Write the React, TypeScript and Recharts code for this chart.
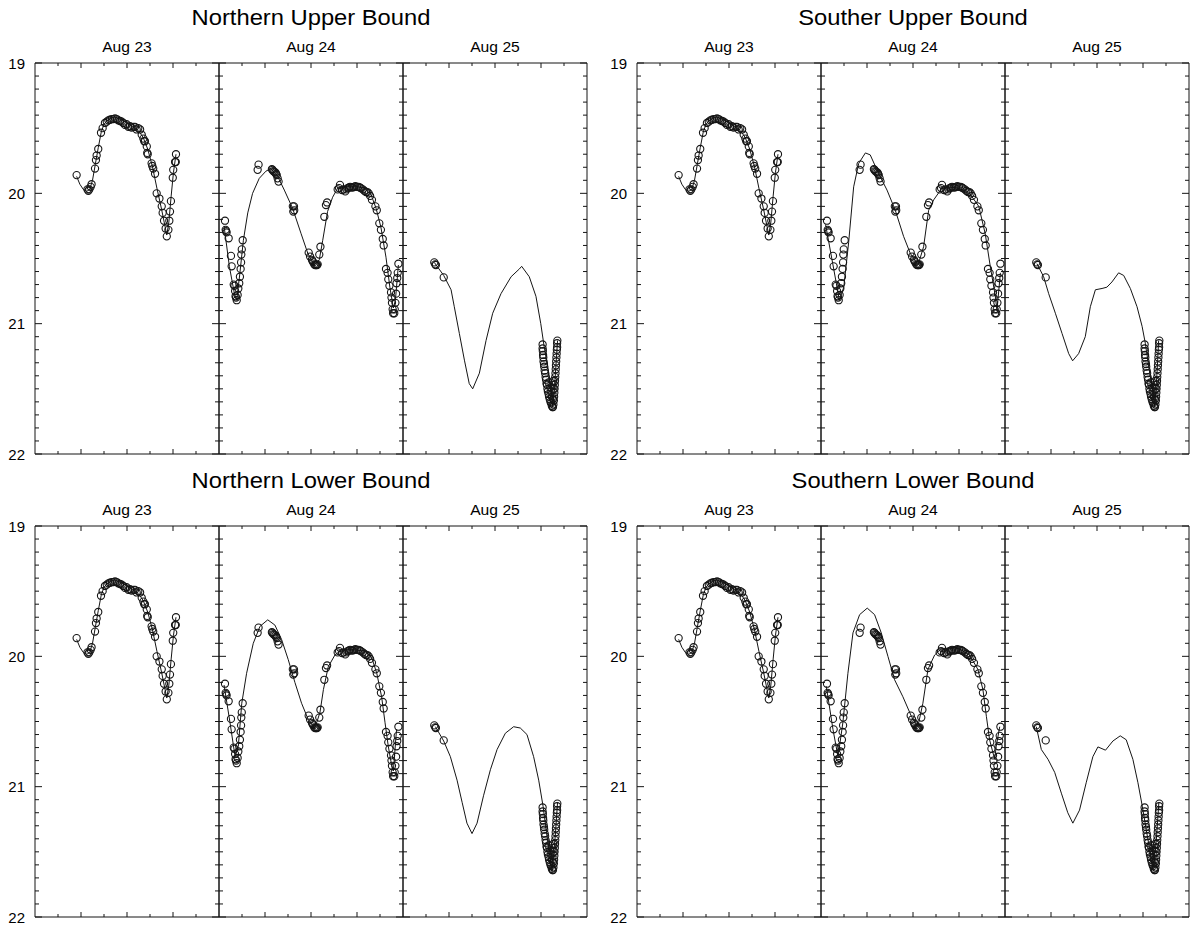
import { ComposedChart, Line, Scatter, XAxis, YAxis } from "recharts";

type Pt = [number, number];

const days = ["Aug 23", "Aug 24", "Aug 25"];
const magTicks = [19, 20, 21, 22];
const hourTicks = [1, 2, 3, 4, 5, 6, 7];

// observed magnitudes (hours into the night, mag)
const obsAug23: Pt[] = [
    [1.81, 19.86], [2.28, 19.97], [2.32, 19.98], [2.36, 19.97], [2.42, 19.95], [2.46, 19.93],
    [2.61, 19.81], [2.65, 19.745], [2.68, 19.71], [2.75, 19.66], [2.87, 19.535], [2.94, 19.5],
    [3.04, 19.46], [3.12, 19.45], [3.19, 19.44], [3.26, 19.435], [3.34, 19.43], [3.41, 19.43],
    [3.48, 19.425], [3.55, 19.43], [3.62, 19.44], [3.7, 19.445], [3.77, 19.45], [3.84, 19.46],
    [3.91, 19.475], [3.98, 19.47], [4.06, 19.49], [4.13, 19.485], [4.2, 19.495], [4.28, 19.49],
    [4.35, 19.49], [4.42, 19.51], [4.49, 19.5], [4.57, 19.51], [4.64, 19.55], [4.71, 19.58],
    [4.75, 19.6], [4.78, 19.6], [4.86, 19.64], [4.88, 19.69], [4.9, 19.7], [5.07, 19.77],
    [5.1, 19.79], [5.14, 19.81], [5.22, 19.85], [5.29, 20.0], [5.41, 20.04], [5.51, 20.1],
    [5.55, 20.15], [5.61, 20.21], [5.68, 20.27], [5.73, 20.33], [5.8, 20.28], [5.84, 20.21],
    [5.87, 20.14], [5.91, 20.06], [5.99, 19.88], [6.01, 19.82], [6.09, 19.76], [6.12, 19.76],
    [6.13, 19.7]
];

const obsAug24: Pt[] = [
    [0.26, 20.21], [0.29, 20.28], [0.31, 20.29], [0.33, 20.3], [0.42, 20.345], [0.52, 20.48],
    [0.55, 20.56], [0.64, 20.7], [0.67, 20.71], [0.7, 20.75], [0.72, 20.79], [0.74, 20.8],
    [0.77, 20.82], [0.81, 20.78], [0.84, 20.73], [0.88, 20.69], [0.91, 20.64], [0.94, 20.58],
    [0.96, 20.53], [0.97, 20.47], [0.99, 20.43], [1.03, 20.36], [1.68, 19.82], [1.72, 19.78],
    [2.3, 19.815], [2.33, 19.82], [2.36, 19.83], [2.4, 19.835], [2.45, 19.84], [2.48, 19.85],
    [2.51, 19.86], [2.55, 19.885], [2.59, 19.91], [3.21, 20.1], [3.23, 20.14], [3.27, 20.13],
    [3.26, 20.1], [3.9, 20.455], [3.96, 20.485], [4.04, 20.51], [4.07, 20.52], [4.1, 20.53],
    [4.14, 20.545], [4.18, 20.55], [4.22, 20.55], [4.26, 20.55], [4.29, 20.545], [4.36, 20.47],
    [4.41, 20.41], [4.58, 20.18], [4.65, 20.09], [4.7, 20.07], [5.16, 19.97], [5.22, 19.96],
    [5.26, 19.935], [5.35, 19.975], [5.42, 19.97], [5.49, 19.985], [5.55, 19.97], [5.59, 19.96],
    [5.65, 19.955], [5.7, 19.95], [5.76, 19.955], [5.81, 19.955], [5.87, 19.95], [5.93, 19.945],
    [6.0, 19.95], [6.07, 19.95], [6.12, 19.955], [6.17, 19.96], [6.25, 19.97], [6.32, 19.98],
    [6.39, 19.99], [6.45, 19.99], [6.51, 20.0], [6.57, 20.02], [6.65, 20.05], [6.8, 20.1],
    [6.86, 20.13], [6.97, 20.23], [7.04, 20.28], [7.12, 20.35], [7.16, 20.4], [7.26, 20.58],
    [7.33, 20.61], [7.36, 20.66], [7.41, 20.71], [7.48, 20.76], [7.5, 20.8], [7.52, 20.84],
    [7.55, 20.89], [7.57, 20.92], [7.62, 20.92], [7.64, 20.89], [7.67, 20.84], [7.7, 20.77],
    [7.72, 20.69], [7.75, 20.65], [7.77, 20.61], [7.8, 20.54]
];

const obsAug25: Pt[] = [
    [1.36, 20.53], [1.4, 20.545], [1.43, 20.55], [1.77, 20.645],
    [6.07, 21.16], [6.07, 21.19], [6.08, 21.21], [6.09, 21.24], [6.1, 21.26], [6.11, 21.29],
    [6.13, 21.31], [6.14, 21.33], [6.16, 21.36], [6.18, 21.38], [6.2, 21.41], [6.22, 21.43],
    [6.24, 21.46], [6.26, 21.47], [6.28, 21.5], [6.3, 21.52], [6.33, 21.54], [6.35, 21.56],
    [6.38, 21.58], [6.41, 21.6], [6.44, 21.61], [6.47, 21.63], [6.5, 21.64],
    [6.71, 21.13], [6.7, 21.15], [6.7, 21.18], [6.69, 21.2], [6.68, 21.23], [6.67, 21.26],
    [6.66, 21.29], [6.65, 21.32], [6.64, 21.35], [6.63, 21.38], [6.62, 21.41], [6.61, 21.44],
    [6.6, 21.47], [6.59, 21.5], [6.58, 21.53], [6.57, 21.56], [6.56, 21.59], [6.54, 21.62],
    [6.52, 21.64], [6.33, 21.45], [6.4, 21.49], [6.45, 21.52], [6.48, 21.56], [6.52, 21.58],
    [6.55, 21.5], [6.53, 21.44], [6.5, 21.47]
];

// model light curves
const model23: Pt[] = [
    [1.81, 19.87], [1.95, 19.93], [2.1, 19.97], [2.25, 19.985], [2.38, 19.97], [2.5, 19.9],
    [2.62, 19.78], [2.75, 19.65], [2.88, 19.53], [3.0, 19.47], [3.15, 19.44], [3.35, 19.42],
    [3.55, 19.42], [3.75, 19.435], [4.0, 19.46], [4.25, 19.49], [4.5, 19.52], [4.7, 19.57],
    [4.9, 19.66], [5.1, 19.79], [5.3, 19.96], [5.5, 20.12], [5.65, 20.25], [5.73, 20.32],
    [5.82, 20.22], [5.92, 20.02], [6.02, 19.84], [6.13, 19.7]
];

const nUpper24: Pt[] = [
    [0.22, 20.25], [0.45, 20.56], [0.67, 20.77], [0.77, 20.82], [0.91, 20.61], [1.06, 20.36],
    [1.25, 20.15], [1.46, 20.0], [1.75, 19.885], [2.04, 19.83], [2.26, 19.81], [2.55, 19.87],
    [2.84, 19.975], [3.2, 20.115], [3.57, 20.31], [3.86, 20.46], [4.14, 20.55], [4.36, 20.51],
    [4.51, 20.36], [4.72, 20.14], [4.94, 20.03], [5.16, 19.96], [5.52, 19.945], [5.96, 19.945],
    [6.32, 19.96], [6.61, 20.01], [6.83, 20.115], [7.04, 20.26], [7.26, 20.49], [7.43, 20.72],
    [7.58, 20.88], [7.67, 20.82], [7.8, 20.55]
];

const sUpper24: Pt[] = [
    [0.2, 20.24], [0.48, 20.51], [0.8, 20.82], [0.99, 20.72], [1.2, 20.38], [1.42, 19.95],
    [1.64, 19.77], [1.93, 19.69], [2.14, 19.705], [2.51, 19.85], [2.87, 19.975], [3.23, 20.13],
    [3.59, 20.33], [3.88, 20.46], [4.22, 20.55], [4.46, 20.41], [4.68, 20.13], [4.9, 20.05],
    [5.26, 19.96], [5.84, 19.955], [6.42, 19.99], [6.86, 20.1], [7.14, 20.31], [7.36, 20.56],
    [7.58, 20.79], [7.65, 20.9], [7.8, 20.61]
];

const nLower24: Pt[] = [
    [0.22, 20.22], [0.48, 20.51], [0.7, 20.77], [0.84, 20.69], [0.99, 20.36], [1.2, 20.13],
    [1.49, 19.9], [1.78, 19.77], [2.12, 19.72], [2.43, 19.76], [2.72, 19.87], [3.01, 20.025],
    [3.3, 20.2], [3.59, 20.36], [3.88, 20.485], [4.17, 20.55], [4.39, 20.43], [4.54, 20.255],
    [4.75, 20.08], [5.04, 19.99], [5.33, 19.95], [5.91, 19.95], [6.35, 19.96], [6.64, 20.01],
    [6.86, 20.13], [7.07, 20.31], [7.22, 20.51], [7.36, 20.69], [7.51, 20.84], [7.58, 20.88],
    [7.72, 20.56]
];

const sLower24: Pt[] = [
    [0.23, 20.23], [0.52, 20.56], [0.74, 20.77], [0.95, 20.51], [1.17, 20.13], [1.39, 19.82],
    [1.68, 19.68], [2.01, 19.63], [2.33, 19.68], [2.62, 19.82], [2.91, 20.0], [3.2, 20.18],
    [3.56, 20.31], [3.93, 20.46], [4.21, 20.54], [4.43, 20.36], [4.65, 20.1], [4.94, 19.99],
    [5.23, 19.94], [5.95, 19.935], [6.46, 19.99], [6.82, 20.1], [7.04, 20.255], [7.19, 20.46],
    [7.33, 20.64], [7.55, 20.79], [7.62, 20.69], [7.77, 20.54]
];

const nUpper25: Pt[] = [
    [1.36, 20.53], [1.77, 20.63], [2.09, 20.74], [2.23, 20.87], [2.45, 21.075], [2.67, 21.28],
    [2.88, 21.46], [3.03, 21.5], [3.32, 21.38], [3.61, 21.13], [3.9, 20.92], [4.26, 20.77],
    [4.7, 20.64], [5.06, 20.58], [5.16, 20.56], [5.49, 20.64], [5.78, 20.79], [5.99, 21.0],
    [6.14, 21.18], [6.29, 21.33], [6.43, 21.48], [6.51, 21.64], [6.61, 21.43], [6.72, 21.13]
];

const sUpper25: Pt[] = [
    [1.39, 20.54], [1.68, 20.64], [1.9, 20.77], [2.19, 20.92], [2.48, 21.075], [2.77, 21.23],
    [2.94, 21.285], [3.2, 21.23], [3.49, 21.1], [3.71, 20.87], [3.93, 20.74], [4.22, 20.73],
    [4.43, 20.72], [4.65, 20.68], [4.94, 20.61], [5.16, 20.63], [5.45, 20.73], [5.74, 20.87],
    [5.96, 21.02], [6.1, 21.15], [6.25, 21.33], [6.39, 21.48], [6.51, 21.64], [6.61, 21.38],
    [6.68, 21.13]
];

const nLower25: Pt[] = [
    [1.41, 20.54], [1.77, 20.65], [2.06, 20.77], [2.35, 20.95], [2.57, 21.12], [2.78, 21.28],
    [3.0, 21.36], [3.22, 21.28], [3.5, 21.07], [3.8, 20.87], [4.09, 20.715], [4.45, 20.59],
    [4.81, 20.54], [5.1, 20.55], [5.39, 20.6], [5.68, 20.77], [5.9, 20.95], [6.09, 21.15],
    [6.26, 21.38], [6.48, 21.65], [6.62, 21.38], [6.72, 21.12]
];

const sLower25: Pt[] = [
    [1.36, 20.54], [1.58, 20.715], [1.87, 20.79], [2.16, 20.89], [2.45, 21.05], [2.73, 21.2],
    [2.95, 21.28], [3.24, 21.18], [3.53, 20.97], [3.82, 20.77], [4.04, 20.695], [4.37, 20.72],
    [4.69, 20.65], [5.01, 20.61], [5.27, 20.64], [5.56, 20.79], [5.78, 20.97], [5.97, 21.15],
    [6.14, 21.33], [6.29, 21.48], [6.43, 21.64], [6.58, 21.41], [6.69, 21.12]
];

const observed = [obsAug23, obsAug24, obsAug25];

const quadrants = [
    { title: "Northern Upper Bound", x: 35, y: 63, models: [model23, nUpper24, nUpper25] },
    { title: "Souther Upper Bound", x: 637, y: 63, models: [model23, sUpper24, sUpper25] },
    { title: "Northern Lower Bound", x: 35, y: 526, models: [model23, nLower24, nLower25] },
    { title: "Southern Lower Bound", x: 637, y: 526, models: [model23, sLower24, sLower25] }
];

const PW = 184;
const PH = 391;
const ML = 40;
const MT = 12;
const INK = "#151515";
const FONT = "'Liberation Sans', Arial, Helvetica, sans-serif";

// every tenth of a magnitude gets a tick, integers get labels
const minorTicks: number[] = [];
magTicks.slice(0, -1).forEach((m) => {
    for (let k = 0; k < 10; k++) minorTicks.push(Math.round((m + k / 10) * 10) / 10);
});
minorTicks.push(magTicks[magTicks.length - 1]);

const toRows = (pts: Pt[]) => pts.map(([t, m]) => ({ t, m }));
const isMajor = (v: number) => Math.abs(v - Math.round(v)) < 1e-6;

function Panel({ left, top, obs, model, labels }: {
    left: number; top: number; obs: Pt[]; model: Pt[]; labels: boolean;
}) {
    const leftTick = (p: any) => {
        const v = p.payload.value;
        const len = isMajor(v) ? 7 : 4;
        return (
            <g>
                <line x1={p.x} x2={p.x + len} y1={p.y} y2={p.y} stroke={INK}/>
                {labels && isMajor(v) && (
                    <text x={p.x - 10} y={p.y} textAnchor="end" dominantBaseline="central"
                          fontSize={15} fontFamily={FONT} fill="#000">{v}</text>
                )}
            </g>
        );
    };
    const rightTick = (p: any) => {
        const len = isMajor(p.payload.value) ? 7 : 4;
        return <line x1={p.x} x2={p.x - len} y1={p.y} y2={p.y} stroke={INK}/>;
    };
    const bottomTick = (p: any) => {
        const len = p.payload.value % 2 === 0 ? 5 : 3;
        return <line x1={p.x} x2={p.x} y1={p.y} y2={p.y - len} stroke={INK}/>;
    };
    const topTick = (p: any) => {
        const len = p.payload.value % 2 === 0 ? 5 : 3;
        return <line x1={p.x} x2={p.x} y1={p.y} y2={p.y + len} stroke={INK}/>;
    };

    return (
        <div style={{ position: "absolute", left: left - ML, top: top - MT }}>
            <ComposedChart width={PW + ML + 4} height={PH + MT * 2}
                           margin={{ top: MT - 1, right: 3, bottom: MT - 1, left: ML - 1 }}>
                <XAxis xAxisId="b" type="number" dataKey="t" domain={[0, 8]} ticks={hourTicks}
                       height={1} tickSize={0} tickMargin={0} interval={0} tick={bottomTick}
                       axisLine={{ stroke: INK }} tickLine={false} allowDataOverflow/>
                <XAxis xAxisId="t" orientation="top" type="number" dataKey="t" domain={[0, 8]}
                       ticks={hourTicks} height={1} tickSize={0} tickMargin={0} interval={0}
                       tick={topTick} axisLine={{ stroke: INK }} tickLine={false} allowDataOverflow/>
                <YAxis yAxisId="l" type="number" domain={[19, 22]} reversed ticks={minorTicks}
                       width={1} tickSize={0} tickMargin={0} interval={0} tick={leftTick}
                       axisLine={{ stroke: INK }} tickLine={false} allowDataOverflow/>
                <YAxis yAxisId="r" orientation="right" type="number" domain={[19, 22]} reversed
                       ticks={minorTicks} width={1} tickSize={0} tickMargin={0} interval={0}
                       tick={rightTick} axisLine={{ stroke: INK }} tickLine={false} allowDataOverflow/>
                <Line xAxisId="b" yAxisId="l" data={toRows(model)} dataKey="m" type="linear"
                      stroke={INK} strokeWidth={1} dot={false} isAnimationActive={false}/>
                <Scatter xAxisId="b" yAxisId="l" data={toRows(obs)} dataKey="m"
                         isAnimationActive={false}
                         shape={(p: any) => (
                             <circle cx={p.cx} cy={p.cy} r={3.6} fill="none" stroke={INK}
                                     strokeWidth={1.1}/>
                         )}/>
            </ComposedChart>
        </div>
    );
}

export default function App() {
    return (
        <div style={{ position: "absolute", left: 0, top: 0, width: 1201, height: 928,
                      background: "#fff", fontFamily: FONT }}>
            <svg width={1201} height={928} style={{ position: "absolute", left: 0, top: 0 }}>
                {quadrants.map((q) => (
                    <g key={q.title}>
                        <text transform={`translate(${q.x + (PW * 3) / 2},${q.y - 38}) scale(1.08,1)`}
                              textAnchor="middle" fontSize={22} fontFamily={FONT} fill="#000">
                            {q.title}
                        </text>
                        {days.map((d, i) => (
                            <text key={d}
                                  transform={`translate(${q.x + PW * i + PW / 2},${q.y - 11}) scale(1.12,1)`}
                                  textAnchor="middle" fontSize={14} fontFamily={FONT} fill="#000">
                                {d}
                            </text>
                        ))}
                    </g>
                ))}
            </svg>
            {quadrants.map((q) =>
                days.map((d, i) => (
                    <Panel key={q.title + d} left={q.x + PW * i} top={q.y} obs={observed[i]}
                           model={q.models[i]} labels={i === 0}/>
                ))
            )}
        </div>
    );
}
